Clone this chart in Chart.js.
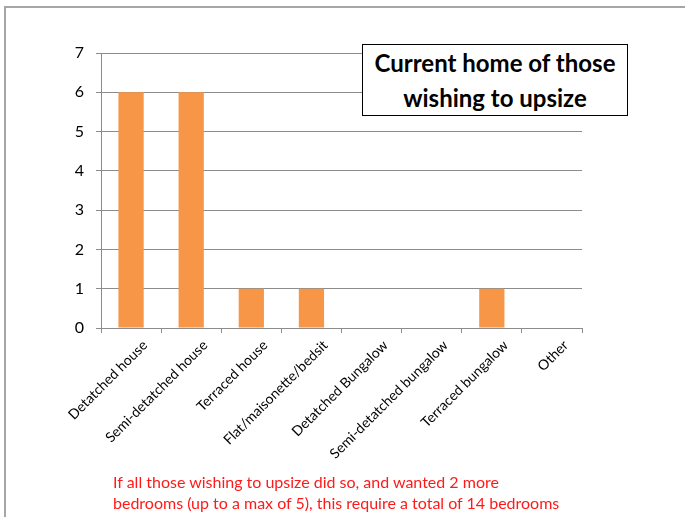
<!DOCTYPE html>
<html>
<head>
<meta charset="utf-8">
<script src="https://cdn.jsdelivr.net/npm/chart.js@4"></script>
<style>
  body { margin:0; background:#fff; }
  #wrap { position:relative; width:685px; height:517px; overflow:hidden; font-family:Lato, "Liberation Sans", sans-serif; }
  #frame { position:absolute; left:4px; top:6px; width:700px; height:600px; border-top:2px solid #a6a6a6; border-left:2px solid #a6a6a6; }
  #chart { position:absolute; left:0; top:0; }
  #title { position:absolute; left:362px; top:44px; width:264px; height:70px; border:1px solid #000; background:#fff;
           text-align:center; font-weight:bold; font-size:24px; line-height:35px; color:#000; }
  #note { position:absolute; left:113px; top:471px; font-size:16px; line-height:21px; color:#ff1a1a; }
</style>
</head>
<body>
<div id="wrap">
  <div id="frame"></div>
  <canvas id="chart" width="685" height="517"></canvas>
  <div id="title">Current home of those<br>wishing to upsize</div>
  <div id="note">If all those wishing to upsize did so, and wanted 2 more<br>bedrooms (up to a max of 5), this require a total of 14 bedrooms</div>
</div>
<script>
var categories = ['Detatched house','Semi-detatched house','Terraced house','Flat/maisonette/bedsit',
                  'Detatched Bungalow','Semi-detatched bungalow','Terraced bungalow','Other']
var counts = [6, 6, 1, 1, 0, 0, 1, 0]
var yTicks = [0, 1, 2, 3, 4, 5, 6, 7]

var gridColor = '#8c8c8c'
Chart.defaults.font.family = 'Lato, "Liberation Sans", sans-serif'
Chart.defaults.color = '#000'

var chart = new Chart(document.getElementById('chart'), {
    type: 'bar',
    data: {
        labels: categories,
        datasets: [{ data: counts, backgroundColor: '#f79646', categoryPercentage: 1, barPercentage: 0.42 }]
    },
    options: {
        responsive: false,
        animation: false,
        layout: { padding: { top: 53, right: 103, left: 0, bottom: 0 } },
        plugins: { legend: { display: false }, tooltip: { enabled: false } },
        scales: {
            x: {
                grid: { offset: true, drawOnChartArea: false, tickLength: 5, color: gridColor },
                border: { color: gridColor },
                ticks: { minRotation: 45, maxRotation: 45, autoSkip: false, font: { size: 14 }, padding: 4, labelOffset: 14 },
                afterFit: function(s){ s.height = 189 }
            },
            y: {
                min: 0, max: 7,
                afterBuildTicks: function(s){ s.ticks = yTicks.map(function(v){ return { value: v } }) },
                grid: { tickLength: 5, color: gridColor },
                border: { color: gridColor },
                ticks: { font: { size: 16 }, padding: 12 },
                afterFit: function(s){ s.width = 101 }
            }
        }
    }
})
</script>
</body>
</html>
